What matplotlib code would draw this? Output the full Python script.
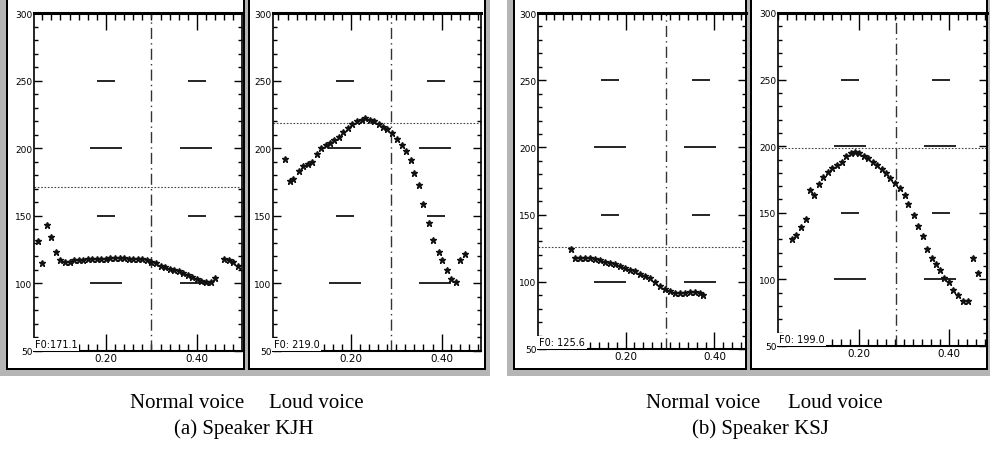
import numpy as np
import matplotlib.pyplot as plt
from matplotlib.patches import Rectangle
from matplotlib.ticker import MultipleLocator, FixedLocator

# figure size in pixels, everything below is placed in pixel coords (top-left origin)
W, H = 990, 452

# ---- data (time in s, F0 in Hz) ----
kjh_normal_t = [0.05, 0.06, 0.07, 0.08, 0.09, 0.10, 0.11, 0.12, 0.13, 0.14,
                0.15, 0.16, 0.17, 0.18, 0.19, 0.20, 0.21, 0.22, 0.23, 0.24,
                0.25, 0.26, 0.27, 0.28, 0.29, 0.30, 0.31, 0.32, 0.33, 0.34,
                0.35, 0.36, 0.37, 0.38, 0.39, 0.40, 0.41, 0.42, 0.43, 0.44,
                0.46, 0.47, 0.48, 0.49]
kjh_normal_f0 = [131, 115, 143, 134, 123, 117, 116, 116, 117, 117,
                 117, 118, 118, 118, 118, 118, 119, 119, 119, 119,
                 118, 118, 118, 118, 117, 116, 115, 113, 112, 111,
                 110, 109, 108, 106, 105, 103, 102, 101, 101, 104,
                 118, 117, 116, 113]

kjh_loud_t = [0.054, 0.065, 0.072, 0.085, 0.094, 0.105, 0.113, 0.124, 0.134, 0.145,
              0.154, 0.163, 0.173, 0.183, 0.193, 0.202, 0.213, 0.224, 0.232, 0.242,
              0.251, 0.261, 0.270, 0.279, 0.290, 0.301, 0.312, 0.321, 0.332, 0.340,
              0.351, 0.359, 0.373, 0.382, 0.394, 0.402, 0.412, 0.420, 0.432, 0.441,
              0.452]
kjh_loud_f0 = [192, 176, 177, 183, 187, 188, 190, 196, 200, 202,
               204, 206, 208, 212, 215, 218, 220, 221, 222, 221,
               220, 218, 216, 214, 211, 207, 202, 198, 191, 182,
               173, 159, 145, 132, 123, 117, 110, 103, 101, 117,
               122]

ksj_normal_t = [0.077, 0.086, 0.097, 0.108, 0.119, 0.131, 0.142, 0.153, 0.164, 0.176,
                0.187, 0.198, 0.209, 0.221, 0.232, 0.243, 0.255, 0.266, 0.277, 0.289,
                0.300, 0.311, 0.322, 0.334, 0.345, 0.356, 0.368, 0.375]
ksj_normal_f0 = [124.5, 118, 118, 118, 117.5, 117, 116, 115, 114, 113,
                 112, 110.5, 109, 108, 106, 104.5, 102.5, 99.5, 97, 95,
                 93, 92, 92, 92, 92.5, 92.5, 92, 90.5]

ksj_loud_t = [0.050, 0.061, 0.072, 0.082, 0.090, 0.100, 0.110, 0.120, 0.130, 0.140,
              0.150, 0.161, 0.170, 0.182, 0.190, 0.200, 0.210, 0.220, 0.230, 0.240,
              0.250, 0.259, 0.269, 0.279, 0.290, 0.301, 0.309, 0.322, 0.330, 0.342,
              0.350, 0.361, 0.370, 0.380, 0.389, 0.399, 0.409, 0.420, 0.431, 0.441,
              0.453, 0.463]
ksj_loud_f0 = [130, 133.6, 139, 145.6, 167, 163, 171.4, 177, 180.6, 183.5,
               186, 188.4, 192.7, 195.2, 195.6, 194.7, 192.7, 190.8, 188.4, 186,
               183, 180.2, 175.8, 172.2, 168.5, 163.2, 156.5, 148.3, 140.1, 132.9,
               122.7, 115.9, 111.8, 107, 101.2, 97.8, 92.2, 88.6, 83.8, 83.8,
               116, 105]

# cursor position (time, F0) and read-out text in each panel
cursor_t = [0.300, 0.288, 0.291, 0.283]
cursor_f0 = [171.1, 219.0, 125.6, 199.0]
cursor_txt = ['F0:171.1', 'F0: 219.0', 'F0: 125.6', 'F0: 199.0']

y_ticks = [50, 100, 150, 200, 250, 300]
y_labels = ['50', '100', '150', '200', '250', '300']
x_ticks = [0.20, 0.40]
x_labels = ['0.20', '0.40']

captions = ['(a) Speaker KJH', '(b) Speaker KSJ']


def fx(px):
    return px / W


def fy(py):
    return 1 - py / H


def rect_px(fig, x0, y0, x1, y1, **kw):
    r = Rectangle((fx(x0), fy(y1)), fx(x1) - fx(x0), fy(y0) - fy(y1),
                  transform=fig.transFigure, zorder=-5, **kw)
    fig.add_artist(r)


fig = plt.figure(figsize=(W / 100, H / 100), dpi=100)
fig.patch.set_facecolor('white')

# window frames (grey scanned borders)
windows = [(0, 245, 8, 243), (245, 490, 250, 484), (507, 748, 515, 745), (748, 990, 752, 986)]
for x0, x1, ix0, ix1 in windows:
    rect_px(fig, x0, 0, x1, 377, facecolor='#b5b5b5', edgecolor='none', hatch='.....', lw=0)
    rect_px(fig, ix0, 0, ix1, 370, facecolor='white', edgecolor='none')
    rect_px(fig, ix0 - 2, 0, ix0, 371, facecolor='black', edgecolor='none')
    rect_px(fig, ix1, 0, ix1 + 2, 371, facecolor='black', edgecolor='none')
    rect_px(fig, ix0 - 2, 369, ix1 + 2, 371, facecolor='black', edgecolor='none')

# axes boxes in px: left, top, right, bottom and x-limits
boxes = [(34, 14, 242, 352), (273, 14, 481, 352), (538, 14, 746, 350), (778, 14, 987, 347)]
xlims = [(0.042, 0.499), (0.028, 0.487), (0.003, 0.471), (0.020, 0.484)]
series = [(kjh_normal_t, kjh_normal_f0), (kjh_loud_t, kjh_loud_f0),
          (ksj_normal_t, ksj_normal_f0), (ksj_loud_t, ksj_loud_f0)]

for i in range(4):
    l, t, r, b = boxes[i]
    ax = fig.add_axes([fx(l), fy(b), fx(r) - fx(l), fy(t) - fy(b)])
    ax.set_facecolor('none')
    ax.set_xlim(*xlims[i])
    ax.set_ylim(50, 300)

    # dashed reference lines (long dashes, ~90 px period)
    for lev in [100, 150, 200, 250]:
        if lev in (150, 250):
            ls = (16.8, (10.8, 43.8))
        else:
            ls = (20.4, (19.2, 34.8))
        ax.axhline(lev, color='black', lw=1.2, linestyle=ls)

    # cursor cross-hair
    ax.axvline(cursor_t[i], color='#333333', lw=1, linestyle=(0, (8, 3, 1, 3)))
    ax.axhline(cursor_f0[i], color='#444444', lw=0.8, linestyle=(0, (1.5, 1.5)))

    ax.plot(series[i][0], series[i][1], linestyle='none', marker='*',
            ms=4.5, color='#111111', mec='#111111')

    ax.yaxis.set_major_locator(FixedLocator(y_ticks))
    ax.set_yticklabels(y_labels)
    ax.yaxis.set_minor_locator(MultipleLocator(10))
    ax.xaxis.set_major_locator(FixedLocator(x_ticks))
    ax.set_xticklabels(x_labels)
    ax.xaxis.set_minor_locator(MultipleLocator(0.02))
    ax.tick_params(axis='y', which='both', direction='in', left=True, right=True,
                   labelsize=6.5, pad=1, width=1)
    ax.tick_params(axis='y', which='major', length=6)
    ax.tick_params(axis='y', which='minor', length=3)
    ax.tick_params(axis='x', which='both', direction='in', top=True, bottom=True,
                   labelsize=7.5, pad=1.5, width=1)
    ax.tick_params(axis='x', which='major', length=12)
    ax.tick_params(axis='x', which='minor', length=5)

    for s in ax.spines.values():
        s.set_linewidth(1.2)
    ax.spines['top'].set_linewidth(2.2)
    ax.spines['bottom'].set_linewidth(1.5)

    ax.text(0.005, 0.005, cursor_txt[i], transform=ax.transAxes, fontsize=7,
            ha='left', va='bottom', zorder=5,
            bbox=dict(facecolor='white', edgecolor='none', pad=1.2))

# captions below each speaker pair
cap_font = 'Liberation Serif'
fig.text(fx(187), fy(404), 'Normal voice', fontsize=15, family=cap_font, ha='center', va='center')
fig.text(fx(316), fy(404), 'Loud voice', fontsize=15, family=cap_font, ha='center', va='center')
fig.text(fx(244), fy(429), captions[0], fontsize=15, family=cap_font, ha='center', va='center')
fig.text(fx(703), fy(404), 'Normal voice', fontsize=15, family=cap_font, ha='center', va='center')
fig.text(fx(835), fy(404), 'Loud voice', fontsize=15, family=cap_font, ha='center', va='center')
fig.text(fx(760), fy(429), captions[1], fontsize=15, family=cap_font, ha='center', va='center')

fig.savefig('out.png', dpi=100)
